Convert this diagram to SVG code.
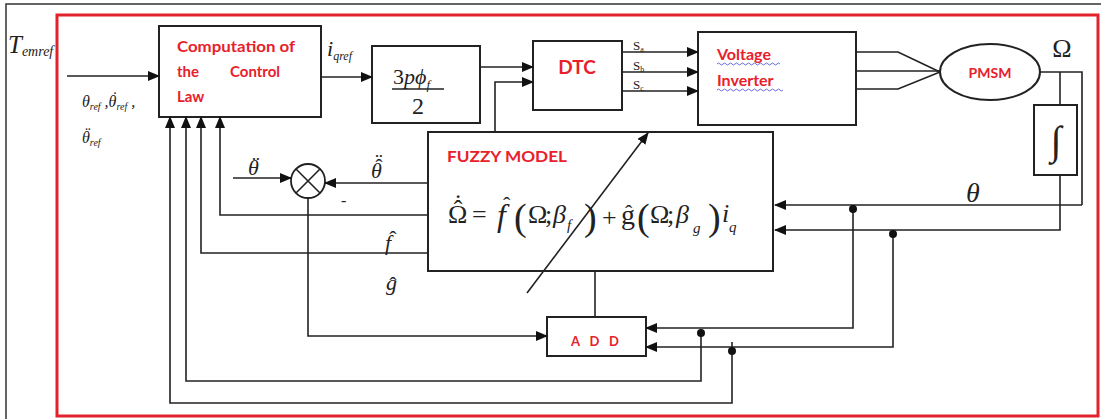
<svg xmlns="http://www.w3.org/2000/svg" width="1101" height="419" viewBox="0 0 1101 419">
<style>
.box{fill:#fff;stroke:#222;stroke-width:2}
.ln{fill:none;stroke:#222;stroke-width:1.6}
.arr{marker-end:url(#ah)}
.lbl{font-family:Lato,"Liberation Sans",sans-serif;font-weight:bold;fill:#e8202a}
.m{font-family:"Liberation Serif",serif;fill:#222}
.mi{font-family:"Liberation Serif",serif;font-style:italic;fill:#222}
.up{font-style:normal}
.wav{fill:none;stroke:#6a6ae0;stroke-width:1}
</style>
<defs>
<marker id="ah" markerUnits="userSpaceOnUse" markerWidth="12" markerHeight="10" refX="11" refY="5" orient="auto">
<path d="M0,0 L12,5 L0,10 z" fill="#111"/>
</marker>
</defs>
<rect x="0" y="0" width="1101" height="419" fill="#fff"/>
<path d="M6,419 V4 H1101" fill="none" stroke="#333" stroke-width="1.5"/>
<rect x="57" y="15" width="1041" height="401" fill="none" stroke="#e3232b" stroke-width="3"/>

<g id="comp">
<rect class="box" x="159" y="26" width="162" height="91"/>
<text class="lbl" font-size="15" x="177" y="52" textLength="118" lengthAdjust="spacingAndGlyphs">Computation of</text>
<text class="lbl" font-size="15" x="177" y="77">the</text>
<text class="lbl" font-size="15" x="230" y="77">Control</text>
<text class="lbl" font-size="15" x="177" y="102">Law</text>
</g>

<g id="gain">
<rect class="box" x="372" y="46" width="108" height="77"/>
<text class="m" font-size="22" x="393" y="84">3<tspan font-style="italic">pϕ</tspan><tspan font-size="13" font-style="italic" dy="5">f</tspan></text>
<line x1="392" y1="89" x2="444" y2="89" stroke="#222" stroke-width="1.5"/>
<text class="m" font-size="24" x="418" y="114" text-anchor="middle">2</text>
</g>

<g id="dtc">
<rect class="box" x="533" y="41" width="89" height="69"/>
<text class="lbl" font-size="19" x="577" y="74" text-anchor="middle">DTC</text>
</g>

<g id="inverter">
<rect class="box" x="698" y="32" width="158" height="93"/>
<text class="lbl" font-size="16" x="717" y="60">Voltage</text>
<text class="lbl" font-size="16" x="717" y="86">Inverter</text>
<path class="wav" d="M717,64 q1.5,-2 3,0 t3,0 t3,0 t3,0 t3,0 t3,0 t3,0 t3,0 t3,0 t3,0 t3,0 t3,0 t3,0 t3,0 t3,0 t3,0 t3,0 t3,0 t3,0 t3,0 t3,0"/>
<path class="wav" d="M717,90 q1.5,-2 3,0 t3,0 t3,0 t3,0 t3,0 t3,0 t3,0 t3,0 t3,0 t3,0 t3,0 t3,0 t3,0 t3,0 t3,0 t3,0 t3,0 t3,0 t3,0 t3,0 t3,0 t3,0"/>
</g>

<g id="pmsm">
<ellipse cx="990" cy="72" rx="50" ry="28" fill="#fff" stroke="#222" stroke-width="2"/>
<text class="lbl" font-size="14" x="990" y="78" text-anchor="middle">PMSM</text>
</g>

<g id="integrator">
<rect class="box" x="1034" y="105" width="43" height="70" stroke-width="1.6"/>
<text class="m" font-size="40" x="1056" y="154" text-anchor="middle">∫</text>
</g>

<g id="fuzzy">
<rect class="box" x="428" y="132" width="345" height="139"/>
<text class="lbl" font-size="15" x="447" y="162" textLength="120" lengthAdjust="spacingAndGlyphs">FUZZY MODEL</text>
<text class="m" font-size="26"><tspan x="448" y="223">Ω</tspan><tspan x="472" y="223">=</tspan><tspan x="497" y="226" font-size="32" font-style="italic">f</tspan><tspan x="514" y="230" font-size="38">(</tspan><tspan x="528" y="223">Ω</tspan><tspan x="545" y="223">;</tspan><tspan x="553" y="223" font-style="italic">β</tspan><tspan x="567" y="230" font-size="15" font-style="italic">f</tspan><tspan x="584" y="230" font-size="38">)</tspan><tspan x="602" y="226">+</tspan><tspan x="621" y="224" font-size="28">g</tspan><tspan x="637" y="230" font-size="38">(</tspan><tspan x="650" y="223">Ω</tspan><tspan x="667" y="223">;</tspan><tspan x="676" y="223" font-style="italic">β</tspan><tspan x="693" y="233" font-size="15" font-style="italic">g</tspan><tspan x="708" y="230" font-size="38">)</tspan><tspan x="722" y="222" font-style="italic">i</tspan><tspan x="729" y="232" font-size="15" font-style="italic">q</tspan><tspan x="453.7" y="218">ˆ</tspan><tspan x="453.7" y="212">˙</tspan><tspan x="503" y="212" font-size="22">ˆ</tspan><tspan x="625" y="220" font-size="22">ˆ</tspan></text>
</g>

<g id="sum">
<circle cx="308" cy="181" r="17" fill="#fff" stroke="#222" stroke-width="1.8"/>
<path d="M296,169 L320,193 M320,169 L296,193" stroke="#222" stroke-width="1.6"/>
<text class="m" font-size="16" x="341" y="206">-</text>
</g>

<g id="add">
<rect class="box" x="547" y="317" width="99" height="39"/>
<text class="lbl" font-size="13" x="571" y="346" textLength="48" lengthAdjust="spacing">A D D</text>
</g>

<g id="labels">
<text class="mi" font-size="25" x="8" y="53">T<tspan font-size="14" dy="3">emref</tspan></text>
<text class="mi" font-size="16" x="82" y="107">θ<tspan font-size="10" dy="3">ref</tspan><tspan dy="-3"> ,θ</tspan><tspan font-size="10" dy="3">ref</tspan><tspan dy="-3"> ,</tspan><tspan class="up" x="112.3" y="103">˙</tspan></text>
<text class="mi" font-size="16" x="82" y="143">θ<tspan font-size="10" dy="3">ref</tspan><tspan class="up" x="85.3" y="139">¨</tspan></text>
<text class="mi" font-size="22" x="327" y="56">i<tspan font-size="12" dy="4">qref</tspan></text>
<text class="m" font-size="13" x="633" y="50">S<tspan font-size="8" dy="2">a</tspan></text>
<text class="m" font-size="13" x="633" y="70">S<tspan font-size="8" dy="2">b</tspan></text>
<text class="m" font-size="13" x="633" y="89">S<tspan font-size="8" dy="2">c</tspan></text>
<text class="m" font-size="26" x="1062" y="57" text-anchor="middle">Ω</text>
<text class="mi" font-size="28" x="973" y="202" text-anchor="middle">θ</text>
<text class="mi" font-size="22" x="248" y="175">θ<tspan class="up" x="252.3" y="171">¨</tspan></text>
<text class="mi" font-size="22" x="371" y="178">θ<tspan class="up" x="375.3" y="174">ˆ</tspan><tspan class="up" x="375.3" y="168">¨</tspan></text>
<text class="mi" font-size="22" x="385" y="250">f<tspan class="up" x="389.3" y="246">ˆ</tspan></text>
<text class="mi" font-size="22" x="386" y="290">g<tspan class="up" x="389.3" y="292">ˆ</tspan></text>
</g>

<g id="connectors">
<path class="ln arr" d="M67,76 H159"/>
<path class="ln arr" d="M321,77 H372"/>
<path class="ln arr" d="M480,67 H533"/>
<path class="ln arr" d="M495,132 V82 H533"/>
<path class="ln arr" d="M622,52 H698"/>
<path class="ln arr" d="M622,72 H698"/>
<path class="ln arr" d="M622,91 H698"/>
<path class="ln" d="M856,52 H898 L940,72"/>
<path class="ln" d="M856,71 H940"/>
<path class="ln" d="M856,89 H898 L940,72"/>
<path class="ln" d="M1040,72 H1082 V205"/>
<path class="ln" d="M1060,72 V105"/>
<path class="ln arr" d="M1082,205 H775"/>
<path class="ln arr" d="M1060,175 V230 H775"/>
<path class="ln arr" d="M853,205 V328 H646"/>
<path class="ln arr" d="M893,230 V347 H646"/>
<path class="ln arr" d="M701,329 V381 H186 V117"/>
<path class="ln arr" d="M732,342 V403 H170 V117"/>
<path class="ln arr" d="M428,215 H220 V117"/>
<path class="ln arr" d="M428,253 H201 V117"/>
<path class="ln arr" d="M233,178 H291"/>
<path class="ln arr" d="M428,183 H325"/>
<path class="ln arr" d="M308,198 V336 H547"/>
<path class="ln" d="M595,271 V317"/>
<path class="ln arr" d="M527,293 L648,133" stroke-width="2"/>
<circle cx="853" cy="209" r="4" fill="#111"/>
<circle cx="893" cy="234" r="4" fill="#111"/>
<circle cx="701" cy="333" r="4" fill="#111"/>
<circle cx="732" cy="351" r="4" fill="#111"/>
</g>
</svg>
